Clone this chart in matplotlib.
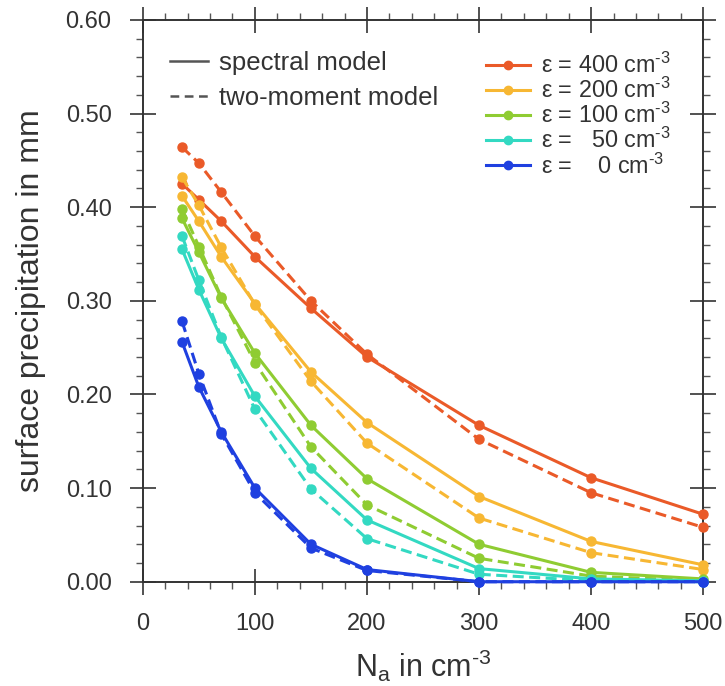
import matplotlib
matplotlib.use("Agg")
import matplotlib.pyplot as plt
from matplotlib.lines import Line2D
from matplotlib.ticker import MultipleLocator, FormatStrFormatter

plt.rcParams['font.family'] = ['Liberation Sans', 'DejaVu Sans']
plt.rcParams['mathtext.fontset'] = 'custom'
plt.rcParams['mathtext.rm'] = 'Liberation Sans'
plt.rcParams['mathtext.it'] = 'Liberation Sans'

N_a = [35, 50, 70, 100, 150, 200, 300, 400, 500]

eps_labels = [r"ε = 400 cm$^{\text{-3}}$", r"ε = 200 cm$^{\text{-3}}$",
              r"ε = 100 cm$^{\text{-3}}$", r"ε =   50 cm$^{\text{-3}}$",
              r"ε =    0 cm$^{\text{-3}}$"]
colors = ["#ea5a28", "#f7b733", "#8fcc32", "#33d9c2", "#1f40e0"]

spectral_400 = [0.425, 0.408, 0.385, 0.347, 0.292, 0.240, 0.167, 0.111, 0.072]
twomom_400 = [0.464, 0.447, 0.416, 0.369, 0.300, 0.243, 0.152, 0.095, 0.058]
spectral_200 = [0.412, 0.385, 0.347, 0.297, 0.224, 0.170, 0.091, 0.043, 0.018]
twomom_200 = [0.432, 0.402, 0.357, 0.296, 0.214, 0.148, 0.068, 0.031, 0.013]
spectral_100 = [0.388, 0.352, 0.303, 0.244, 0.167, 0.110, 0.040, 0.010, 0.003]
twomom_100 = [0.398, 0.358, 0.304, 0.234, 0.144, 0.082, 0.025, 0.006, 0.001]
spectral_50 = [0.355, 0.312, 0.260, 0.198, 0.121, 0.066, 0.014, 0.003, 0.001]
twomom_50 = [0.369, 0.322, 0.261, 0.184, 0.099, 0.046, 0.008, 0.001, 0.000]
spectral_0 = [0.256, 0.208, 0.160, 0.100, 0.040, 0.013, 0.000, 0.000, 0.000]
twomom_0 = [0.278, 0.222, 0.158, 0.095, 0.036, 0.012, 0.000, 0.000, 0.000]

spectral = [spectral_400, spectral_200, spectral_100, spectral_50, spectral_0]
twomom = [twomom_400, twomom_200, twomom_100, twomom_50, twomom_0]

fig = plt.figure(figsize=(7.25, 6.86), dpi=100)
ax = fig.add_axes([0.197, 0.152, 0.773, 0.819])

dash = (0, (3.6, 1.8))
for c, s, t in zip(colors, spectral, twomom):
    ax.plot(N_a, t, color=c, lw=2.2, ls=dash, marker='o', ms=6.5,
            clip_on=False, zorder=3)
    ax.plot(N_a, s, color=c, lw=2.2, ls='-', marker='o', ms=6.5,
            clip_on=False, zorder=3)

ax.set_xlim(0, 500)
ax.set_ylim(0, 0.6)
ax.xaxis.set_major_locator(MultipleLocator(100))
ax.xaxis.set_minor_locator(MultipleLocator(20))
ax.yaxis.set_major_locator(MultipleLocator(0.1))
ax.yaxis.set_minor_locator(MultipleLocator(0.02))
ax.yaxis.set_major_formatter(FormatStrFormatter('%.2f'))
ax.tick_params(which='major', direction='inout', length=19, width=1.2,
               top=True, right=True, labelsize=17, colors='#333333', pad=13)
ax.tick_params(which='minor', direction='out', length=5, width=1.0,
               top=True, right=True, colors='#555555')
for sp in ax.spines.values():
    sp.set_linewidth(1.4)
    sp.set_color('#333333')

ax.set_xlabel(r"N$_{\text{a}}$ in cm$^{\text{-3}}$", fontsize=22, color='#333333', labelpad=9)
ax.set_ylabel("surface precipitation in mm", fontsize=23, color='#333333', labelpad=14)

h1 = [Line2D([], [], color='#555555', lw=1.8, ls='-'),
      Line2D([], [], color='#555555', lw=1.8, ls=(0, (3.5, 2.2)))]
leg1 = ax.legend(h1, ["spectral model", "two-moment model"], loc='upper left',
                 bbox_to_anchor=(0.048, 0.944), frameon=False, fontsize=18.5,
                 handlelength=1.5, handletextpad=0.4, labelspacing=0.4,
                 borderpad=0, borderaxespad=0, labelcolor='#333333')
ax.add_artist(leg1)

h2 = [Line2D([], [], color=c, lw=2.2, marker='o', ms=6) for c in colors]
ax.legend(h2, eps_labels, loc='upper right', bbox_to_anchor=(0.942, 0.942),
          frameon=False, fontsize=16.8, handlelength=1.9, labelspacing=0.0,
          handletextpad=0.45, borderpad=0, borderaxespad=0, labelcolor='#333333')

fig.savefig("out.png", dpi=100)
